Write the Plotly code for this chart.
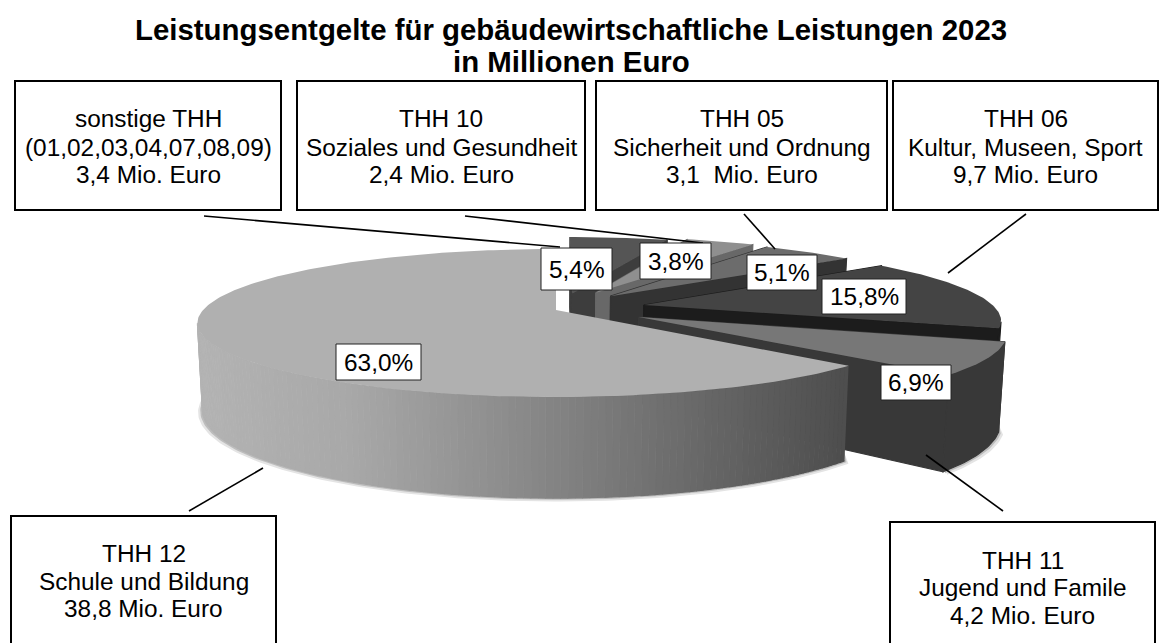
import numpy as np
import plotly.graph_objects as go

# ---- data ----
categories = ["sonstige THH", "THH 10", "THH 05", "THH 06", "THH 11", "THH 12"]
shares = [5.4, 3.8, 5.1, 15.8, 6.9, 63.0]
share_labels = ["5,4%", "3,8%", "5,1%", "15,8%", "6,9%", "63,0%"]
box_lines = [
    ["sonstige THH", "(01,02,03,04,07,08,09)", "3,4 Mio. Euro"],
    ["THH 10", "Soziales und Gesundheit", "2,4 Mio. Euro"],
    ["THH 05", "Sicherheit und Ordnung", "3,1  Mio. Euro"],
    ["THH 06", "Kultur, Museen, Sport", "9,7 Mio. Euro"],
    ["THH 11", "Jugend und Famile", "4,2 Mio. Euro"],
    ["THH 12", "Schule und Bildung", "38,8 Mio. Euro"],
]
title_lines = ["Leistungsentgelte für gebäudewirtschaftliche Leistungen 2023", "in Millionen Euro"]

# ---- styling / projection ----
FONT = "Liberation Sans, Arial, sans-serif"
top_colors = ["#555555", "#8f8f8f", "#6c6c6c", "#444444", "#777777", "#b0b0b0"]
side_colors = ["#3d3d3d", "#686868", "#333333", "#1c1c1c", "#383838", None]
explode = [(0.048, -0.24), (0.118, -0.25), (0.16, -0.20), (0.252, -0.07), (0.23, 0.097), (0.0, 0.0)]
CX, CY, RX, RY, K, H, SHRINK = 556, 310, 353, 71.7, 0.176, 85.5, 0.986
START = -90.0


def project(u, v, bottom=False):
    u, v = np.asarray(u, float), np.asarray(v, float)
    s = 1 / (1 - K * v)
    if bottom:
        s = s * SHRINK
        return CX + RX * u * s, CY + (RY * v + H) * s
    return CX + RX * u * s, CY + RY * v * s


def poly(x, y, color, width=0.0, opacity=1.0):
    return go.Scatter(x=list(x), y=list(y), mode="lines", fill="toself", fillcolor=color,
                      line=dict(color=color, width=width), opacity=opacity,
                      hoverinfo="skip", showlegend=False)


def arc(a0, a1):
    n = max(2, int(abs(a1 - a0)) + 1)
    return np.radians(np.linspace(a0, a1, n))


def big_side_color(x):
    g = np.interp(x, [200, 350, 520, 700, 850], [0xb3, 0xa8, 0x8a, 0x68, 0x4d])
    g = int(round(g))
    return f"rgb({g},{g},{g})"


traces = []
ends = START + np.cumsum(shares) * 3.6
starts = np.concatenate([[START], ends[:-1]])

# soft shadow under the two front slices
for idx in (5, 4):
    ou, ov = explode[idx]
    t = arc(starts[idx], ends[idx])
    t = t[(np.sin(t) > 0.0)]
    for grow, col, dy in ((1.012, "#e4e4e4", 2), (1.006, "#bdbdbd", 1)):
        xb, yb = project(ou + grow * np.cos(t), ov + grow * np.sin(t), bottom=True)
        xa, ya = project(ou + np.cos(t), ov + np.sin(t), bottom=True)
        traces.append(poly(np.r_[xb, xa[::-1]], np.r_[yb + dy, (ya - 8)[::-1]], col))

for i in range(len(shares)):
    ou, ov = explode[i]
    t = arc(starts[i], ends[i])
    u = ou + np.cos(t)
    v = ov + np.sin(t)
    xt, yt = project(u, v)
    xb, yb = project(u, v, bottom=True)
    ax, ay = project(ou, ov)
    bx, by = project(ou, ov, bottom=True)
    side = side_colors[i]

    if side is not None:
        # cut faces
        traces.append(poly([ax, xt[0], xb[0], bx, ax], [ay, yt[0], yb[0], by, ay], side, width=1.2))
        traces.append(poly([ax, xt[-1], xb[-1], bx, ax], [ay, yt[-1], yb[-1], by, ay], side, width=1.2))

    # outer wall, only the part turned towards the viewer
    facing = np.sin(t) * (1 / K - v) - np.cos(t) * u > 0
    if i < len(shares) - 1:
        if facing.any():
            xa, ya, xc, yc = xt[facing], yt[facing], xb[facing], yb[facing]
            traces.append(poly(np.r_[xa, xc[::-1], xa[0]], np.r_[ya, yc[::-1], ya[0]], side, width=1.2))
    else:
        idxs = np.where(facing)[0]
        for j in range(idxs[0], idxs[-1]):
            k = j + 1
            sx = np.r_[xt[j:k + 1], xb[j:k + 1][::-1]]
            sy = np.r_[yt[j:k + 1], yb[j:k + 1][::-1]]
            traces.append(poly(sx, sy, big_side_color(xt[j:k + 1].mean()), width=1.2))

    # top face
    traces.append(poly(np.r_[ax, xt, ax], np.r_[ay, yt, ay], top_colors[i]))

fig = go.Figure(traces)

# ---- label boxes, leaders, text (page pixels) ----
box_rects = [(15, 81, 281, 210), (297, 81, 585, 210), (596, 81, 887, 210),
             (893, 81, 1158, 210), (890, 522, 1155, 648), (11, 516, 276, 648)]
box_text_y = [(118, 147, 174)] * 4 + [(560, 587, 615), (553, 581, 608)]
leaders = [(204, 216, 560, 247), (465, 216, 703, 243), (744, 214, 775, 249),
           (1026, 214, 948, 273), (926, 455, 1003, 511), (189, 511, 263, 468)]
pct_rects = [(541, 248, 612, 290), (640, 243, 711, 279), (747, 255, 817, 290),
             (822, 279, 906, 314), (881, 365, 951, 400), (336, 344, 421, 380)]

shapes, annos = [], []
for x0, y0, x1, y1 in leaders:
    shapes.append(dict(type="line", x0=x0, y0=y0, x1=x1, y1=y1, xref="x", yref="y", layer="above",
                       line=dict(color="black", width=1.6)))
for (x0, y0, x1, y1), lines, ys in zip(box_rects, box_lines, box_text_y):
    shapes.append(dict(type="rect", x0=x0, y0=y0, x1=x1, y1=y1, xref="x", yref="y", layer="above",
                       fillcolor="white", line=dict(color="black", width=2)))
    for txt, yy in zip(lines, ys):
        annos.append(dict(x=(x0 + x1) / 2, y=yy, text=txt, xref="x", yref="y", showarrow=False,
                          xanchor="center", yanchor="middle", font=dict(family=FONT, size=24.4, color="black")))
for (x0, y0, x1, y1), txt in zip(pct_rects, share_labels):
    shapes.append(dict(type="rect", x0=x0, y0=y0, x1=x1, y1=y1, xref="x", yref="y", layer="above",
                       fillcolor="white", line=dict(color="#222222", width=1)))
    annos.append(dict(x=(x0 + x1) / 2, y=(y0 + y1) / 2, text=txt, xref="x", yref="y", showarrow=False,
                      xanchor="center", yanchor="middle", font=dict(family=FONT, size=24.4, color="black")))
for txt, yy in zip(title_lines, (29, 61)):
    annos.append(dict(x=571, y=yy, text=f"<b>{txt}</b>", xref="x", yref="y", showarrow=False,
                      xanchor="center", yanchor="middle", font=dict(family=FONT, size=29.4, color="black")))

fig.update_layout(
    width=1162, height=643, margin=dict(l=0, r=0, t=0, b=0, pad=0),
    paper_bgcolor="white", plot_bgcolor="white", showlegend=False,
    xaxis=dict(range=[0, 1162], visible=False, fixedrange=True),
    yaxis=dict(range=[643, 0], visible=False, fixedrange=True),
    shapes=shapes, annotations=annos,
)
fig.write_html("out.html", config={"displayModeBar": False},
               post_script="document.body.style.margin='0';document.body.style.overflow='hidden';")
